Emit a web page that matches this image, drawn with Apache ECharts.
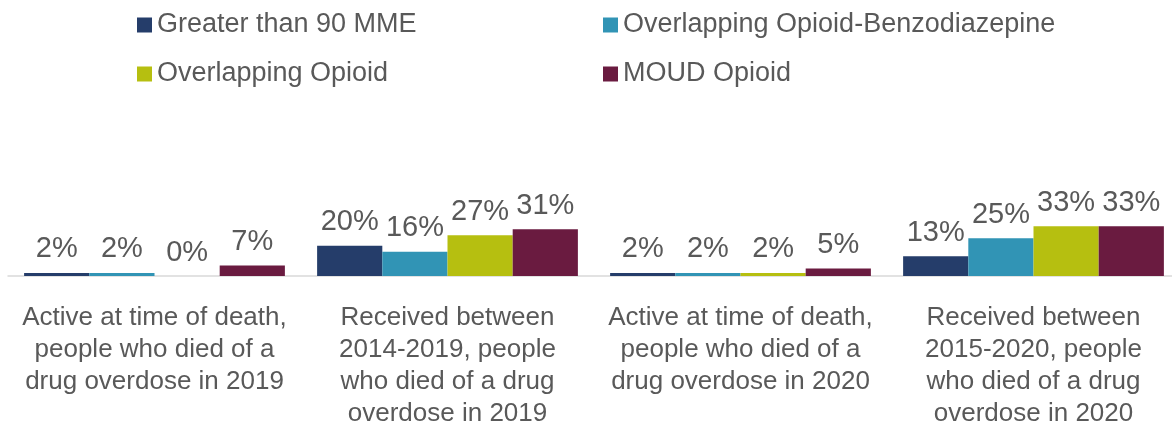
<!DOCTYPE html>
<html>
<head>
<meta charset="utf-8">
<script src="https://cdn.jsdelivr.net/npm/echarts@6/dist/echarts.min.js"></script>
<style>
  html, body { margin: 0; padding: 0; background: #ffffff; overflow: hidden; }
  /* canvas runs slightly past the right edge so the last group sits flush */
  #chart { width: 1180px; height: 430px; }
</style>
</head>
<body>
<div id="chart"></div>
<script>
// Group labels along the category axis
const categories = [
  'Active at time of death,\npeople who died of a\ndrug overdose in 2019',
  'Received between\n2014-2019, people\nwho died of a drug\noverdose in 2019',
  'Active at time of death,\npeople who died of a\ndrug overdose in 2020',
  'Received between\n2015-2020, people\nwho died of a drug\noverdose in 2020'
];

// Series names
const seriesNames = [
  'Greater than 90 MME',
  'Overlapping Opioid-Benzodiazepine',
  'Overlapping Opioid',
  'MOUD Opioid'
];

// Percent values, one array per series
const greaterThan90MME = [2, 20, 2, 13];
const overlappingOpioidBenzo = [2, 16, 2, 25];
const overlappingOpioid = [0, 27, 2, 33];
const moudOpioid = [7, 31, 5, 33];

const seriesValues = [greaterThan90MME, overlappingOpioidBenzo, overlappingOpioid, moudOpioid];
const seriesColors = ['#253D6A', '#3194B5', '#B6BF10', '#6A1B40'];

const textColor = '#595959';
const fontFamily = 'Liberation Sans, Arial, sans-serif';

const chart = echarts.init(document.getElementById('chart'), null, { renderer: 'canvas' });

const legendText = { color: textColor, fontSize: 27, fontFamily: fontFamily, lineHeight: 30 };

function legendColumn(names, left) {
  return {
    data: names,
    orient: 'vertical',
    left: left,
    top: 10,
    padding: 0,
    itemWidth: 15,
    itemHeight: 15,
    itemGap: 19,
    icon: 'rect',
    textStyle: legendText
  };
}

chart.setOption({
  backgroundColor: '#ffffff',
  animation: false,
  legend: [
    legendColumn([seriesNames[0], seriesNames[2]], 137),
    legendColumn([seriesNames[1], seriesNames[3]], 603)
  ],
  grid: {
    left: 8,
    right: 0,
    top: 125,
    bottom: 152,
    containLabel: false
  },
  xAxis: {
    type: 'category',
    data: categories,
    axisLine: { show: true, lineStyle: { color: '#D9D9D9', width: 1.5 } },
    axisTick: { show: false },
    axisLabel: {
      interval: 0,
      color: textColor,
      fontSize: 26,
      lineHeight: 32,
      fontFamily: fontFamily,
      margin: 26,
      align: 'center'
    }
  },
  yAxis: {
    type: 'value',
    min: 0,
    max: 100,
    show: false,
    splitLine: { show: false }
  },
  series: seriesValues.map((vals, i) => ({
    name: seriesNames[i],
    type: 'bar',
    data: vals,
    barGap: '0%',
    barCategoryGap: '11%',
    itemStyle: { color: seriesColors[i] },
    label: {
      show: true,
      position: 'top',
      distance: 9,
      formatter: '{c}%',
      color: textColor,
      fontSize: 29,
      fontFamily: fontFamily
    }
  }))
});
</script>
</body>
</html>
